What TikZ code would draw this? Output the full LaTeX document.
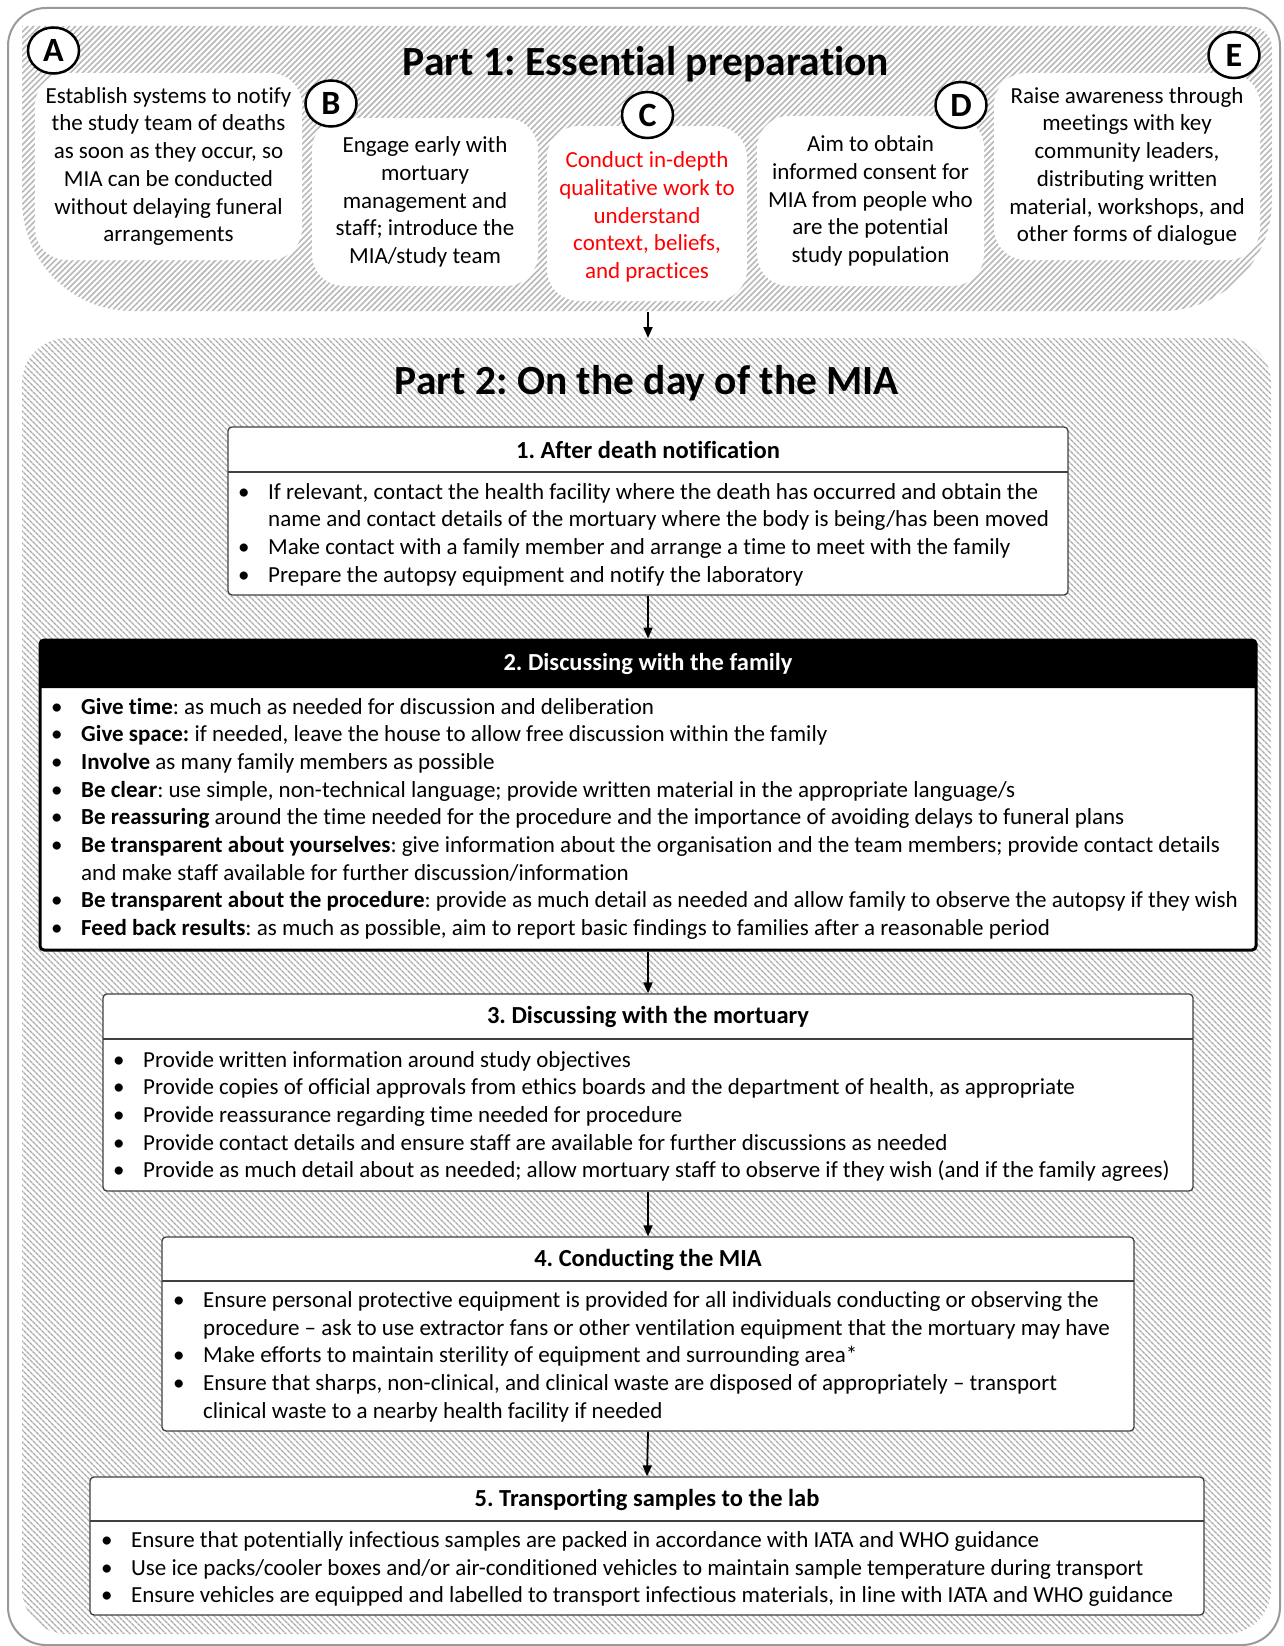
\documentclass[tikz,border=0pt]{standalone}
\usepackage{fontspec}
\setmainfont{Carlito}[Ligatures={NoCommon}]
\usetikzlibrary{patterns.meta,shapes.geometric,arrows.meta,calc}
\frenchspacing
\newcommand\bodyfont{\fontsize{23}{27.7}\selectfont}
\newcommand\bl[1]{\par\noindent\hangindent=30pt\hangafter=1\makebox[30pt][l]{\textbullet}#1\par}
\newcommand\blist[1]{\begin{minipage}[t]{1250pt}\bodyfont\frenchspacing\parskip=0pt#1\end{minipage}}
\begin{document}
\begin{tikzpicture}[x=1pt,y=-1pt,
  hatchA/.style={pattern={Lines[angle=45,distance=4.2pt,line width=1.6pt]},pattern color=black!28},
  hatchB/.style={pattern={Lines[angle=-45,distance=4pt,line width=1.6pt]},pattern color=black!33},
  pbox/.style={fill=white,rounded corners=32pt,align=center,inner sep=0pt,font=\bodyfont},
  lett/.style={ellipse,draw=black,line width=2.5pt,fill=white,minimum width=51pt,minimum height=46pt,inner sep=0pt,font=\bfseries\fontsize{34}{34}\selectfont},
  stepbox/.style={draw=black!75,line width=1.3pt,rounded corners=4pt,fill=white,inner sep=0pt},
  ttl/.style={font=\bfseries\fontsize{24.5}{28}\selectfont,inner sep=0pt},
  body/.style={anchor=base west,inner sep=0pt},
  hdr/.style={draw=black!75,line width=1.3pt},
  arr/.style={-{Triangle[length=11pt,width=9pt]},line width=1.8pt},
  parttitle/.style={anchor=base,font=\bfseries\fontsize{41.5}{48}\selectfont,inner sep=0pt}]
\useasboundingbox (0,0) rectangle (1284,1646);
\fill[white] (0,0) rectangle (1284,1646);
\draw[black!40,line width=2pt,rounded corners=38pt] (8,8) rectangle (1280,1645);

% Part 1 region
\path[hatchA] (22,26) -- (1250,26) .. controls (1262,26) and (1272,36) .. (1272,48)
  -- (1272,200) .. controls (1272,260.7) and (1222.7,311) .. (1162,311)
  -- (132,311) .. controls (71.3,311) and (22,260.7) .. (22,200) -- cycle;
% Part 2 region
\path[hatchB,rounded corners=45pt] (22,338) rectangle (1271,1634);

\node[parttitle] (p1title) at (646,76) {Part 1: Essential preparation};

\node[pbox,minimum width=267,minimum height=187] (boxA) at (168.5,166.5)
  {Establish systems to notify\\the study team of deaths\\as soon as they occur, so\\MIA can be conducted\\without delaying funeral\\arrangements};
\node[pbox,minimum width=226,minimum height=168] (boxB) at (425,202)
  {Engage early with\\mortuary\\management and\\staff; introduce the\\MIA/study team};
\node[pbox,minimum width=200,minimum height=175] (boxC) at (647,213.5) {};
\node[align=center,inner sep=0pt,font=\bodyfont,text=red] (tC) at (647,217)
  {Conduct in-depth\\qualitative work to\\understand\\context, beliefs,\\and practices};
\node[pbox,minimum width=227,minimum height=170] (boxD) at (870.5,201)
  {Aim to obtain\\informed consent for\\MIA from people who\\are the potential\\study population};
\node[pbox,minimum width=266,minimum height=187] (boxE) at (1127,166.5)
  {Raise awareness through\\meetings with key\\community leaders,\\distributing written\\material, workshops, and\\other forms of dialogue};

\node[lett] (cA) at (53.5,50.5) {A};
\node[lett] (cB) at (331,103.5) {B};
\node[lett] (cC) at (647.5,115) {C};
\node[lett] (cD) at (961,105) {D};
\node[lett] (cE) at (1234,55) {E};

\coordinate (p1s) at (648,312);
\coordinate (p2n) at (648,338);
\draw[arr] (p1s) -- (p2n);

\node[parttitle] (p2title) at (647,394) {Part 2: On the day of the MIA};

% Box 1
\node[stepbox,minimum width=840,minimum height=168] (b1) at (648,511) {};
\draw[hdr] (228,472) -- (1068,472);
\node[ttl] (b1t) at (648,450) {1. After death notification};
\node[body] (b1b) at (238,499) {\blist{%
\bl{If relevant, contact the health facility where the death has occurred and obtain the\newline name and contact details of the mortuary where the body is being/has been moved}
\bl{Make contact with a family member and arrange a time to meet with the family}
\bl{Prepare the autopsy equipment and notify the laboratory}}};

% Box 2
\node[draw=black,line width=3pt,rounded corners=4pt,fill=white,inner sep=0pt,minimum width=1216,minimum height=310] (b2) at (648,795) {};
\fill[black] (40,688) -- (40,644) .. controls (40,641.8) and (41.8,640) .. (44,640) -- (1252,640)
  .. controls (1254.2,640) and (1256,641.8) .. (1256,644) -- (1256,688) -- cycle;
\node[ttl,text=white] (b2t) at (648,664) {2. Discussing with the family};
\node[body] (b2b) at (51,714) {\blist{%
\bl{\textbf{Give time}: as much as needed for discussion and deliberation}
\bl{\textbf{Give space:} if needed, leave the house to allow free discussion within the family}
\bl{\textbf{Involve} as many family members as possible}
\bl{\textbf{Be clear}: use simple, non-technical language; provide written material in the appropriate language/s}
\bl{\textbf{Be reassuring} around the time needed for the procedure and the importance of avoiding delays to funeral plans}
\bl{\textbf{Be transparent about yourselves}: give information about the organisation and the team members; provide contact details\newline and make staff available for further discussion/information}
\bl{\textbf{Be transparent about the procedure}: provide as much detail as needed and allow family to observe the autopsy if they wish}
\bl{\textbf{Feed back results}: as much as possible, aim to report basic findings to families after a reasonable period}}};

% Box 3
\node[stepbox,minimum width=1090,minimum height=197] (b3) at (648,1092.5) {};
\draw[hdr] (103,1039) -- (1193,1039);
\node[ttl] (b3t) at (648,1017) {3. Discussing with the mortuary};
\node[body] (b3b) at (113,1067) {\blist{%
\bl{Provide written information around study objectives}
\bl{Provide copies of official approvals from ethics boards and the department of health, as appropriate}
\bl{Provide reassurance regarding time needed for procedure}
\bl{Provide contact details and ensure staff are available for further discussions as needed}
\bl{Provide as much detail about as needed; allow mortuary staff to observe if they wish (and if the family agrees)}}};

% Box 4
\node[stepbox,minimum width=972,minimum height=194] (b4) at (648,1334) {};
\draw[hdr] (162,1281) -- (1134,1281);
\node[ttl] (b4t) at (648,1260) {4. Conducting the MIA};
\node[body] (b4b) at (173,1307.5) {\blist{%
\bl{Ensure personal protective equipment is provided for all individuals conducting or observing the\newline procedure – ask to use extractor fans or other ventilation equipment that the mortuary may have}
\bl{Make efforts to maintain sterility of equipment and surrounding area*}
\bl{Ensure that sharps, non-clinical, and clinical waste are disposed of appropriately – transport\newline clinical waste to a nearby health facility if needed}}};

% Box 5
\node[stepbox,minimum width=1114,minimum height=138] (b5) at (647,1546) {};
\draw[hdr] (90,1521) -- (1204,1521);
\node[ttl] (b5t) at (647,1500) {5. Transporting samples to the lab};
\node[body] (b5b) at (101,1547.5) {\blist{%
\bl{Ensure that potentially infectious samples are packed in accordance with IATA and WHO guidance}
\bl{Use ice packs/cooler boxes and/or air-conditioned vehicles to maintain sample temperature during transport}
\bl{Ensure vehicles are equipped and labelled to transport infectious materials, in line with IATA and WHO guidance}}};

\draw[arr] (b1.south) -- (b2.north);
\draw[arr] (b2.south) -- (b3.north);
\draw[arr] (b3.south) -- (b4.north);
\draw[arr] (b4.south) -- (b5.north);
\end{tikzpicture}
\end{document}
